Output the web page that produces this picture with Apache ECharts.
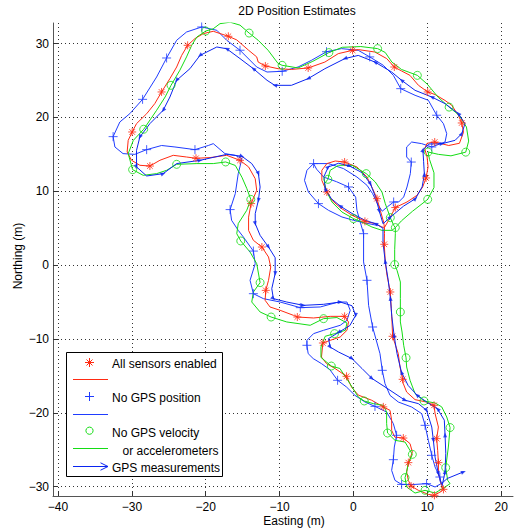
<!DOCTYPE html>
<html><head><meta charset="utf-8">
<script src="https://cdn.jsdelivr.net/npm/echarts@6/dist/echarts.min.js"></script>
<style>html,body{margin:0;padding:0;background:#fff}#c{width:518px;height:529px}</style>
</head><body><div id="c"></div>
<script>
// ---- axis ticks / ranges ----
const xTicks = [-40, -30, -20, -10, 0, 10, 20];
const yTicks = [-30, -20, -10, 0, 10, 20, 30];
const xRange = [-40.68, 21.6];
const yRange = [-31.27, 32.79];

// ---- paths: [easting, northing, marker flag] ----
const redPath = [
[4.2,5.1,0],[4.76,6.07,0],[5.67,7.8,1],[7.25,8.55,0],[8.6,9.45,0],[9.37,10.58,0],[9.83,11.8,1],[10.1,13.3,0],[9.97,14.64,0],[9.64,15.78,0],[9.97,16.5,0],[11.0,16.67,1],[12.9,16.2,0],[14.35,16.5,0],[14.9,18.0,0],[14.66,19.25,1],[14.2,20.3,0],[13.3,21.65,0],[12.4,22.3,0],[11.05,23.1,0],[10.05,23.45,1],[8.8,24.35,0],[7.65,25.7,0],[6.5,26.3,0],[5.53,26.83,1],[4.5,27.97,0],[2.9,28.86,0],[0.65,29.19,0],[-0.12,29.09,1],[-2.06,28.64,0],[-3.87,27.5,0],[-6.13,26.7,1],[-8.4,26.5,0],[-10.2,26.6,0],[-11.93,26.97,1],[-12.9,27.5,0],[-13.1,28.2,0],[-14.2,29.1,0],[-15.8,30.5,0],[-16.94,30.99,1],[-18.98,31.67,0],[-20.33,31.35,0],[-21.46,30.68,0],[-22.45,29.77,1],[-23.26,28.4,0],[-23.94,26.83,0],[-24.85,25.26,0],[-25.98,23.45,1],[-26.9,21.87,0],[-28.0,20.5,0],[-29.37,19.16,0],[-29.96,18.03,1],[-30.5,16.9,0],[-30.64,15.32,0],[-30.05,14.2,0],[-28.92,13.52,0],[-27.56,13.42,1],[-26.2,14.2,0],[-24.4,14.87,0],[-22.6,14.64,0],[-21.32,14.47,1],[-19.42,14.56,0],[-17.16,14.87,0],[-15.36,14.19,1],[-14.2,13.3,0],[-13.3,11.7,0],[-13.1,10.13,0],[-13.86,8.33,1],[-14.2,6.5,0],[-14.2,4.7,0],[-13.55,3.36,0],[-12.4,2.45,1],[-11.5,1.1,0],[-11.2,-0.26,0],[-11.5,-2.06,0],[-11.87,-3.42,1],[-11.96,-4.77,0],[-11.3,-5.67,0],[-9.93,-6.12,0],[-8.13,-6.8,0],[-7.6,-7.03,1],[-5.4,-7.16,0],[-3.15,-6.94,0],[-1.2,-6.94,1],[-0.67,-7.7,0],[-0.88,-8.83,0],[-1.8,-9.74,0],[-3.15,-10.19,0],[-4.14,-10.55,1],[-4.33,-12.45,0],[-3.65,-13.34,0],[-2.5,-14.0,0],[-0.94,-15.06,1],[-0.26,-16.51,0],[0.65,-17.6,0],[2.46,-18.3,0],[4.04,-19.2,1],[4.95,-19.67,0],[5.17,-21.0,0],[5.17,-22.38,0],[5.6,-23.3,0],[6.75,-23.42,1],[7.66,-24.18,0],[7.97,-25.31,0],[7.66,-26.21,0],[7.43,-26.75,1],[7.2,-28.0,0],[7.43,-29.15,0],[7.8,-29.92,1],[8.79,-30.5,0],[10.14,-31.05,0],[10.96,-31.18,1],[11.73,-30.73,0],[12.18,-30.37,1],[11.87,-29.6,0],[11.5,-28.24,0],[11.5,-26.75,1],[11.4,-25.09,0],[11.27,-23.5,1],[11.5,-21.93,0],[11.05,-20.1,0],[10.91,-18.99,1],[9.91,-18.55,0],[8.34,-18.22,0],[7.2,-17.19,0],[6.75,-16.06,0],[6.66,-15.47,1],[6.3,-13.8,0],[6.07,-12.0,0],[5.62,-10.64,0],[5.3,-9.64,1],[5.22,-7.7,0],[5.12,-5.9,0],[4.99,-3.64,1],[4.54,-1.38,0],[4.31,0.43,0],[4.17,2.82,1],[4.2,4.26,0],[4.2,5.1,0],[3.86,5.16,0],[2.95,5.62,0],[1.55,5.93,1],[-0.2,6.75,0],[-1.79,7.78,0],[-2.92,8.78,0],[-3.6,9.9,1],[-4.28,11.48,0],[-4.28,12.84,0],[-3.6,13.75,0],[-2.47,14.1,0],[-1.2,13.96,1],[0.47,13.29,0],[1.83,11.93,0],[2.59,10.36,0],[3.19,9.0,1],[3.63,7.42,0],[4.08,5.84,0],[4.2,5.1,0]
];

const greenPath = [
[5.67,5.08,1],[6.5,6.0,0],[8.0,7.3,0],[10.05,8.9,1],[10.9,10.5,0],[10.9,12.5,0],[10.3,14.3,0],[10.1,15.32,1],[11.5,15.0,0],[13.2,14.8,0],[15.2,15.3,1],[15.6,16.8,0],[15.3,18.7,0],[14.3,20.3,0],[12.95,21.4,1],[11.5,22.7,0],[10.0,24.5,0],[8.65,25.7,1],[6.5,26.5,0],[5.2,27.5,0],[4.3,28.8,0],[3.27,29.32,1],[1.0,29.6,0],[-1.5,29.5,0],[-3.33,28.78,1],[-5.5,27.6,0],[-7.5,26.7,0],[-9.66,27.06,1],[-10.2,27.3,0],[-11.56,29.1,0],[-12.9,30.45,0],[-14.13,31.43,1],[-15.36,32.5,0],[-16.7,32.9,0],[-18.07,32.7,0],[-19.0,32.0,0],[-20.0,31.7,1],[-21.2,30.9,0],[-21.9,29.77,0],[-22.6,28.2,0],[-23.5,26.4,0],[-24.7,24.35,1],[-25.5,22.77,0],[-26.65,20.97,0],[-28.4,18.4,1],[-29.8,16.9,0],[-30.5,15.1,0],[-29.9,12.93,1],[-28.47,12.16,0],[-26.65,12.39,0],[-25.3,12.84,0],[-23.94,13.65,1],[-21.2,13.75,0],[-18.98,13.75,0],[-17.3,13.97,1],[-16.0,13.5,0],[-15.1,11.9,0],[-14.45,10.4,0],[-13.9,8.9,1],[-14.45,7.42,0],[-15.6,5.62,0],[-15.8,4.26,0],[-15.26,3.27,1],[-14.0,1.77,0],[-13.1,0.2,0],[-12.64,-2.37,1],[-13.55,-3.64,0],[-13.77,-5.0,0],[-12.64,-6.35,0],[-11.15,-7.03,1],[-9.03,-7.7,0],[-5.86,-8.15,0],[-4.05,-7.25,1],[-2.24,-7.1,0],[-0.88,-7.84,0],[-1.1,-8.83,0],[-2.56,-9.28,1],[-3.83,-9.64,0],[-4.4,-11.1,0],[-4.4,-12.5,0],[-3.0,-13.67,1],[-1.84,-14.0,0],[-0.48,-16.05,0],[0.65,-17.87,0],[1.46,-18.4,1],[2.68,-18.76,0],[4.04,-18.99,0],[4.49,-19.9,0],[4.49,-21.47,0],[4.62,-22.74,1],[5.62,-23.73,0],[6.98,-23.96,0],[7.97,-25.63,1],[7.43,-26.9,0],[7.2,-28.0,0],[6.98,-28.78,1],[7.2,-30.05,0],[8.34,-30.87,0],[9.69,-30.5,1],[11.05,-30.87,0],[12.4,-30.05,0],[13.08,-29.6,0],[12.76,-29.15,0],[12.49,-27.43,1],[12.85,-24.64,0],[13.08,-22.0,1],[12.63,-20.57,0],[11.95,-19.2,0],[11.05,-18.67,0],[9.55,-18.4,1],[8.34,-17.4,0],[7.66,-15.6,0],[7.2,-13.8,0],[7.12,-12.55,1],[6.8,-10.86,0],[6.58,-9.06,0],[6.35,-7.7,0],[6.35,-6.35,1],[6.35,-4.54,0],[6.35,-2.29,0],[5.9,-0.71,0],[5.58,0.07,1],[5.58,2.08,0],[5.67,4.26,0],[5.67,5.08,0],[5.22,4.71,0],[3.86,4.71,0],[2.5,5.16,0],[1.15,5.84,0],[0.0,6.3,1],[-1.56,7.19,0],[-2.92,8.55,0],[-3.6,9.9,0],[-3.92,11.03,0],[-3.47,11.62,1],[-3.15,12.84,0],[-2.02,13.52,0],[-0.2,13.52,0],[1.73,12.39,1],[2.95,11.26,0],[3.86,9.9,0],[4.31,8.33,0],[4.99,6.43,1],[5.44,5.39,0],[5.67,5.08,0]
];

const noGpsPosPath = [
[-5.4,13.75,1],[-3.38,13.75,0],[-1.35,13.07,0],[0.47,11.93,0],[1.83,10.81,0],[2.59,9.68,0],[3.3,8.2,0],[3.9,7.3,0],[4.6,7.9,0],[5.44,8.55,1],[6.12,8.55,0],[6.8,9.23,0],[7.25,10.58,0],[7.7,12.39,0],[7.83,13.96,1],[7.2,14.64,0],[7.2,16.0,0],[7.88,16.67,0],[9.24,16.45,0],[10.6,16.0,1],[12.4,16.67,0],[12.63,17.8,0],[12.18,19.16,0],[11.27,20.3,1],[10.14,22.32,0],[8.34,23.0,0],[6.4,23.9,1],[5.4,25.7,0],[4.04,27.06,0],[2.2,28.2,1],[0.65,29.09,0],[-1.62,29.32,0],[-3.65,28.9,1],[-5.68,27.74,0],[-7.5,26.83,0],[-9.65,26.25,1],[-11.7,26.15,0],[-13.1,26.83,0],[-15.36,29.1,1],[-17.16,30.45,0],[-18.5,31.8,0],[-20.55,32.25,1],[-22.6,31.57,0],[-23.94,30.45,0],[-25.3,28.05,1],[-26.65,25.48,0],[-28.55,22.45,1],[-30.27,20.52,0],[-31.63,19.38,0],[-32.54,17.4,1],[-32.3,16.0,0],[-31.2,15.1,0],[-29.6,15.0,0],[-28.0,15.64,1],[-25.98,16.2,0],[-24.17,16.0,0],[-21.46,15.64,1],[-19.65,16.2,0],[-18.98,16.45,0],[-17.4,15.1,0],[-16.0,14.87,0],[-15.1,14.42,0],[-15.6,12.39,0],[-16.0,9.68,0],[-16.7,7.52,1],[-16.5,6.07,0],[-15.6,4.71,0],[-14.9,3.8,0],[-13.55,1.9,1],[-13.3,0.2,0],[-14.0,-2.06,0],[-13.55,-3.87,1],[-12.2,-4.54,0],[-9.93,-5.0,0],[-7.2,-5.76,1],[-4.5,-5.67,0],[-2.02,-5.0,0],[-0.88,-5.0,0],[-0.44,-6.12,0],[-0.88,-7.48,0],[-1.79,-8.15,0],[-4.05,-8.83,0],[-5.4,-9.28,0],[-6.3,-10.19,0],[-6.3,-10.86,1],[-6.13,-11.99,0],[-5.45,-12.66,0],[-4.33,-13.34,0],[-3.2,-14.15,0],[-2.15,-15.6,1],[-0.94,-16.51,0],[0.2,-17.64,0],[1.56,-18.54,0],[2.91,-19.13,1],[4.49,-19.9,0],[5.4,-21.47,0],[5.84,-23.05,1],[5.53,-24.64,0],[5.4,-26.35,1],[5.17,-27.8,0],[5.62,-29.15,0],[6.52,-29.7,1],[8.34,-29.7,0],[9.9,-29.6,1],[11.05,-30.05,0],[11.87,-29.6,0],[11.7,-28.7,1],[11.05,-27.35,0],[10.6,-25.76,1],[10.14,-23.73,0],[9.7,-21.7,1],[9.24,-20.12,0],[7.88,-19.22,0],[6.07,-18.54,0],[4.95,-17.64,0],[4.27,-16.06,0],[3.9,-14.25,1],[3.59,-11.99,0],[2.59,-8.38,1],[2.05,-5.45,0],[1.83,-2.06,1],[1.37,0.43,0],[1.37,4.26,1],[0.47,7.42,0],[0.3,9.2,0],[-0.67,10.58,1],[-2.3,11.3,0],[-4.05,11.93,0],[-5.0,13.0,0],[-5.4,13.75,0],[-6.3,12.84,0],[-6.63,11.48,0],[-6.1,9.9,0],[-4.74,8.33,1],[-3.38,7.42,0],[-1.56,6.52,0],[0,6.07,0],[1.6,5.7,0],[3.19,5.39,0]
];

const gpsPath = [
[12.0,-29.9,0],[12.4,-28.0,1],[12.5,-25.5,0],[12.4,-23.0,1],[12.3,-21.0,0],[11.4,-19.5,1],[10.0,-18.6,0],[8.6,-17.6,1],[7.4,-16.3,0],[6.5,-14.5,1],[5.9,-12.0,0],[5.5,-9.5,1],[5.2,-7.0,0],[5.0,-4.5,1],[4.7,-2.0,0],[4.3,0.5,1],[4.0,3.0,0],[4.0,5.0,0],[3.0,5.6,1],[1.5,6.1,0],[-0.2,7.0,0],[-1.8,8.0,1],[-3.0,9.0,0],[-3.8,10.3,1],[-4.0,12.0,0],[-3.4,13.3,1],[-2.0,13.8,0],[-0.5,13.4,1],[1.2,12.5,0],[2.3,11.0,1],[3.0,9.2,0],[3.5,7.3,1],[4.0,5.6,0],[5.0,6.5,1],[6.8,8.0,0],[8.4,9.0,1],[9.3,10.6,0],[9.6,12.3,1],[9.5,14.0,0],[9.4,15.6,1],[10.2,16.4,0],[12.0,16.45,1],[13.76,16.9,0],[14.66,17.8,1],[15.1,19.16,0],[14.2,20.52,1],[12.4,21.87,0],[10.6,22.77,1],[8.34,23.67,0],[6.52,25.03,1],[5.17,26.15,0],[2.91,27.5,1],[0.65,28.4,0],[-1.16,27.97,1],[-3.87,26.6,0],[-6.13,25.26,1],[-8.4,24.35,0],[-10.65,24.35,1],[-11.7,25.03,0],[-13.55,26.6,1],[-15.36,27.97,0],[-17.16,29.3,1],[-18.5,29.54,0],[-20.78,28.4,1],[-22.14,26.6,0],[-23.94,25.03,1],[-24.85,22.77,0],[-25.76,20.97,1],[-27.56,19.16,0],[-28.92,17.35,1],[-29.37,15.55,0],[-29.37,13.3,1],[-28.0,12.07,0],[-25.76,12.39,1],[-23.94,13.75,0],[-20.78,14.19,1],[-17.16,15.0,0],[-15.1,14.74,1],[-13.77,13.75,0],[-12.87,12.39,1],[-12.64,10.58,0],[-12.87,8.78,1],[-13.3,6.97,0],[-13.3,5.62,1],[-12.64,4.03,0],[-11.5,2.45,1],[-10.6,1.0,0],[-10.6,-1.15,1],[-11.06,-3.19,0],[-10.84,-4.54,1],[-9.03,-5.0,0],[-6.77,-5.45,1],[-4.05,-5.31,0],[-1.79,-5.0,1],[-0.2,-5.5,0],[0.3,-6.8,1],[-0.5,-8.2,0],[-2.0,-9.1,1],[-3.38,-9.96,0],[-3.15,-11.1,1],[-2.02,-11.77,0],[-0.2,-12.66,1],[1.15,-14.0,0],[2.5,-15.35,1],[4.27,-16.5,0],[6.98,-18.3,1],[8.79,-18.76,0],[9.9,-19.67,1],[10.6,-21.93,0],[10.82,-23.73,1],[11.05,-26.0,0],[11.5,-28.24,1],[11.9,-29.6,0],[12.7,-28.9,0],[14.9,-28.0,1]
];

const seriesNames = ['All sensors enabled', 'No GPS position', 'No GPS velocity', 'or accelerometers', 'GPS measurements'];
const titleText = '2D Position Estimates';
const xName = 'Easting (m)';
const yName = 'Northing (m)';

// ---- styling ----
const RED = '#ff2a12', BLUE = '#1f3cff', GREEN = '#14dc14', GPSBLUE = '#0a24f0';
const FONT = 'Liberation Sans, Arial, Helvetica, sans-serif';
const STAR = 'path://M5 0 L5 10 M0 5 L10 5 M1.5 1.5 L8.5 8.5 M1.5 8.5 L8.5 1.5';
const PLUS = 'path://M5 0 L5 10 M0 5 L10 5';
const HEAD = 'path://M5 0 L10 10 L0 10 Z';
const xy = p => [p[0], p[1]];
const minus = v => String(v).replace('-', '\u2212');

function lineSeries(path, color, z) {
  return { type: 'line', data: path.map(xy), showSymbol: false, symbol: 'none',
    lineStyle: { color: color, width: 1 }, itemStyle: { color: color }, z: z, silent: true, animation: false };
}
function markSeries(path, symbol, size, color, z) {
  return { type: 'scatter', data: path.filter(p => p[2]).map(xy), symbol: symbol, symbolSize: size,
    itemStyle: { color: 'rgba(0,0,0,0)', borderColor: color, borderWidth: 1 }, z: z, silent: true, animation: false };
}
const gpsHeads = [];
gpsPath.forEach((p, i) => {
  if (!p[2]) return;
  const a = gpsPath[Math.max(0, i - 1)], b = gpsPath[Math.min(gpsPath.length - 1, i + 1)];
  const ang = Math.atan2(b[1] - a[1], b[0] - a[0]) * 180 / Math.PI - 90;
  gpsHeads.push({ value: xy(p), symbolRotate: ang });
});

const chart = echarts.init(document.getElementById('c'), null, { renderer: 'svg' });
const lg = [];
let gid = 0;
// horizontal / vertical 1px bars drawn as filled rects
const H = (x1, x2, y, c) => lg.push({ type: 'rect', id: 'lg' + (gid++), z: 100, shape: { x: x1, y: y, width: x2 - x1, height: 1 }, style: { fill: c, stroke: null } });
const V = (x, y1, y2, c) => lg.push({ type: 'rect', id: 'lg' + (gid++), z: 100, shape: { x: x, y: y1, width: 1, height: y2 - y1 }, style: { fill: c, stroke: null } });
const D = (pts, c) => lg.push({ type: 'polyline', id: 'lg' + (gid++), z: 100, shape: { points: pts }, style: { stroke: c, fill: null, lineWidth: 1 } });
const T = (x, y, t) => lg.push({ type: 'text', id: 'lg' + (gid++), z: 101, style: { x, y, text: t, fill: '#000', font: '12px ' + FONT, textVerticalAlign: 'middle' } });
lg.push({ type: 'rect', id: 'lgbox', z: 99, shape: { x: 66.5, y: 352.5, width: 156, height: 124 }, style: { fill: '#fff', stroke: '#000', lineWidth: 1 } });
// star
V(89, 358, 367, RED); H(85, 94, 362, RED);
D([[86.5, 359.5], [92.5, 365.5]], RED); D([[86.5, 365.5], [92.5, 359.5]], RED);
T(112, 363.5, seriesNames[0]);
H(73, 108, 379, RED);
// plus
V(89, 392, 401, BLUE); H(85, 94, 396, BLUE);
T(112, 398, seriesNames[1]);
H(73, 108, 414, BLUE);
lg.push({ type: 'circle', id: 'lgcirc', z: 100, shape: { cx: 89.5, cy: 430.7, r: 3.6 }, style: { fill: null, stroke: GREEN, lineWidth: 1 } });
T(112, 432.5, seriesNames[2]);
H(73, 108, 448, GREEN);
T(122.5, 450.5, seriesNames[3]);
H(73, 108, 466, GPSBLUE);
D([[100.5, 462.8], [108, 466.5], [100.5, 470.2]], GPSBLUE);
T(112, 467.5, seriesNames[4]);
lg.push({ type: 'text', id: 'title', z: 101, style: { x: 297, y: 11, text: titleText, fill: '#000', font: '12px ' + FONT, textAlign: 'center', textVerticalAlign: 'middle' } });
lg.push({ type: 'text', id: 'xname', z: 101, style: { x: 294, y: 520.5, text: xName, fill: '#000', font: '12px ' + FONT, textAlign: 'center', textVerticalAlign: 'middle' } });
lg.push({ type: 'text', id: 'yname', z: 101, x: 18, y: 256, rotation: Math.PI / 2, style: { x: 0, y: 0, text: yName, fill: '#000', font: '12px ' + FONT, textAlign: 'center', textVerticalAlign: 'middle' } });

const axisCommon = {
  type: 'value',
  axisLine: { show: true, onZero: false, lineStyle: { color: '#555', width: 1 } },
  splitLine: { show: true, lineStyle: { color: '#333', type: [1, 3], width: 1 } }
};

chart.setOption({
  animation: false,
  backgroundColor: '#fff',
  grid: { left: 53, top: 23, width: 460, height: 473, containLabel: false, outerBoundsMode: 'none' },
  xAxis: Object.assign({}, axisCommon, {
    min: xRange[0], max: xRange[1],
    axisTick: { show: true, inside: true, length: 4, customValues: xTicks, lineStyle: { color: '#333' } },
    axisLabel: { customValues: xTicks, formatter: minus, color: '#000', fontSize: 12, fontFamily: FONT, margin: 5 }
  }),
  yAxis: Object.assign({}, axisCommon, {
    min: yRange[0], max: yRange[1],
    axisTick: { show: true, inside: true, length: 4, customValues: yTicks, lineStyle: { color: '#333' } },
    axisLabel: { customValues: yTicks, formatter: minus, color: '#000', fontSize: 12, fontFamily: FONT, margin: 4 }
  }),
  series: [
    lineSeries(noGpsPosPath, BLUE, 2),
    lineSeries(redPath, RED, 3),
    lineSeries(greenPath, GREEN, 4),
    lineSeries(gpsPath, GPSBLUE, 5),
    markSeries(redPath, STAR, 8, RED, 6),
    markSeries(noGpsPosPath, PLUS, 9, BLUE, 6),
    markSeries(greenPath, 'circle', 8, GREEN, 6),
    { type: 'scatter', data: gpsHeads, symbol: HEAD, symbolSize: [4, 5], itemStyle: { color: GPSBLUE }, z: 7, silent: true, animation: false }
  ],
  graphic: lg
});
</script></body></html>
